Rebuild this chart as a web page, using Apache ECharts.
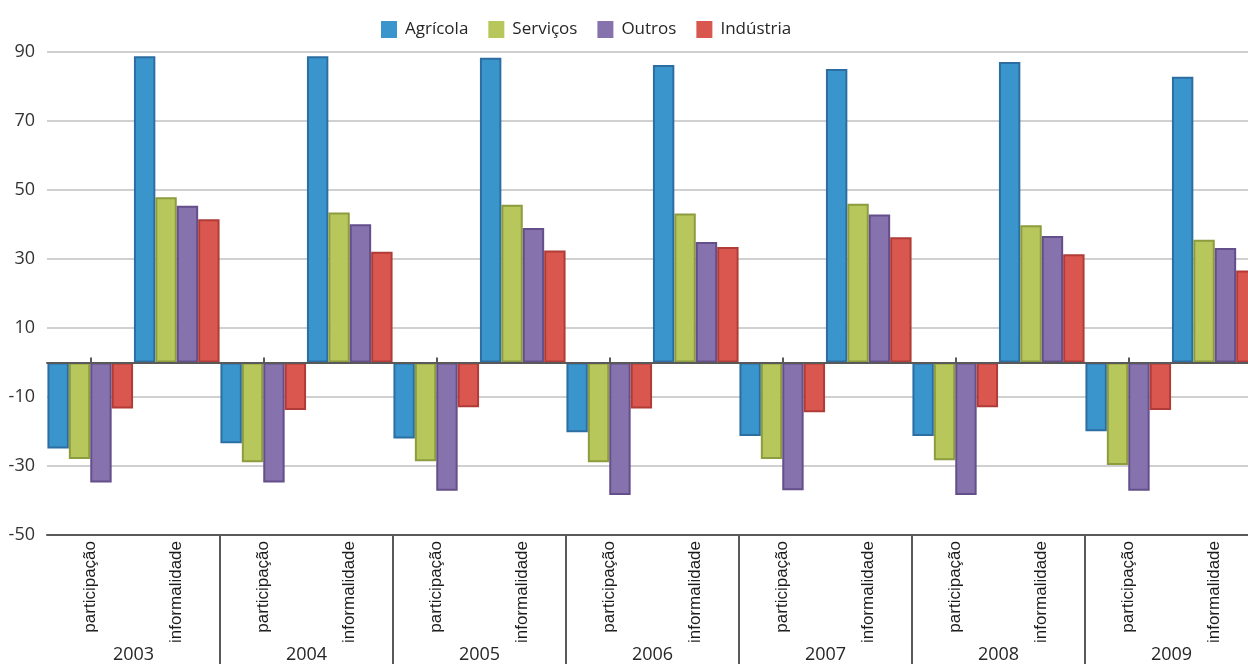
<!DOCTYPE html>
<html>
<head>
<meta charset="utf-8">
<script src="https://cdn.jsdelivr.net/npm/echarts@6/dist/echarts.min.js"></script>
<style>
  html, body { margin: 0; padding: 0; background: #ffffff; width: 1248px; height: 664px; overflow: hidden; }
  #wrap { width: 1248px; height: 664px; overflow: hidden; position: relative; }
  #chart { width: 1258px; height: 664px; position: absolute; left: 0; top: 0; }
</style>
</head>
<body>
<div id="wrap"><div id="chart"></div></div>
<script>
// Anos e medidas (eixo de duas camadas)
const years = ['2003', '2004', '2005', '2006', '2007', '2008', '2009'];
const measures = ['participação', 'informalidade'];
const sectors = ['Agrícola', 'Serviços', 'Outros', 'Indústria'];

// Valores por setor: participação e informalidade, 2003–2009
const agricolaParticipacao  = [-24.9, -23.4, -22.0, -20.2, -21.3, -21.3, -19.9];
const agricolaInformalidade = [ 88.8,  88.8,  88.3,  86.2,  85.1,  87.1,  82.8];
const servicosParticipacao  = [-28.0, -28.9, -28.6, -28.9, -28.0, -28.3, -29.7];
const servicosInformalidade = [ 47.9,  43.5,  45.7,  43.2,  46.0,  39.8,  35.6];
const outrosParticipacao    = [-34.8, -34.8, -37.2, -38.4, -37.0, -38.4, -37.2];
const outrosInformalidade   = [ 45.4,  40.1,  39.0,  34.9,  42.9,  36.7,  33.2];
const industriaParticipacao  = [-13.3, -13.8, -13.0, -13.3, -14.4, -13.0, -13.8];
const industriaInformalidade = [ 41.5,  32.1,  32.5,  33.5,  36.3,  31.4,  26.7];

const yTicks = { min: -50, max: 90, interval: 20 };

const fills   = ['#3A95CD', '#B8C75B', '#8672AD', '#D9574F'];
const borders = ['#2C6EA2', '#8C9C3E', '#644F8B', '#B13C37'];

// Categorias intercaladas: participação, informalidade para cada ano
const categories = [];
years.forEach(y => measures.forEach(m => categories.push(y + '|' + m)));

function interleave(part, inf) {
  const out = [];
  for (let i = 0; i < years.length; i++) { out.push(part[i], inf[i]); }
  return out;
}
const seriesValues = [
  interleave(agricolaParticipacao, agricolaInformalidade),
  interleave(servicosParticipacao, servicosInformalidade),
  interleave(outrosParticipacao, outrosInformalidade),
  interleave(industriaParticipacao, industriaInformalidade)
];

const axisColor = '#595959';
const baseFont = 'Open Sans';

const chart = echarts.init(document.getElementById('chart'), null, { renderer: 'canvas' });
chart.setOption({
  animation: false,
  backgroundColor: '#ffffff',
  legend: {
    top: 16,
    left: 376,
    itemWidth: 16,
    itemHeight: 17,
    itemGap: 20,
    icon: 'rect',
    itemStyle: { borderWidth: 0 },
    textStyle: { fontSize: 17, color: '#262626', fontFamily: baseFont, padding: [0, 0, 0, 3] },
    data: sectors
  },
  grid: { left: 47, right: 0, top: 52, bottom: 129 },
  xAxis: [
    {
      // linha do zero com pequenas marcas
      type: 'category',
      data: categories,
      position: 'bottom',
      z: 10,
      axisLine: { onZero: true, lineStyle: { color: axisColor, width: 2 } },
      axisTick: {
        show: true, inside: true, length: 5, alignWithLabel: true,
        interval: (i) => i % 2 === 0,
        lineStyle: { color: axisColor, width: 2 }
      },
      axisLabel: { show: false },
      splitLine: { show: false }
    },
    {
      // rótulos das medidas, rotacionados
      type: 'category',
      data: categories,
      position: 'bottom',
      axisLine: { onZero: false, lineStyle: { color: axisColor, width: 2 } },
      axisTick: { show: false },
      axisLabel: {
        interval: 0, rotate: 90, margin: 6,
        fontFamily: 'Liberation Sans', fontSize: 17, color: '#1a1a1a',
        formatter: (v) => v.split('|')[1]
      },
      splitLine: { show: false }
    },
    {
      // anos, com separadores verticais
      type: 'category',
      data: years,
      position: 'bottom',
      axisLine: { show: false, onZero: false },
      axisTick: {
        show: true, length: 130,
        interval: (i) => i > 0,
        lineStyle: { color: axisColor, width: 2 }
      },
      axisLabel: { interval: 0, margin: 111, fontFamily: baseFont, fontSize: 18, color: '#262626' },
      splitLine: { show: false }
    }
  ],
  yAxis: {
    type: 'value',
    min: yTicks.min,
    max: yTicks.max,
    interval: yTicks.interval,
    axisLine: { show: false },
    axisTick: { show: false },
    axisLabel: { fontFamily: baseFont, fontSize: 18, color: '#333333', margin: 12 },
    splitLine: { lineStyle: { color: '#D0D0D0', width: 2 } }
  },
  series: sectors.map((name, k) => ({
    name: name,
    type: 'bar',
    xAxisIndex: 0,
    data: seriesValues[k],
    barGap: '0%',
    barCategoryGap: '1%',
    itemStyle: { color: fills[k], borderColor: borders[k], borderWidth: 2 }
  }))
});
</script>
</body>
</html>
